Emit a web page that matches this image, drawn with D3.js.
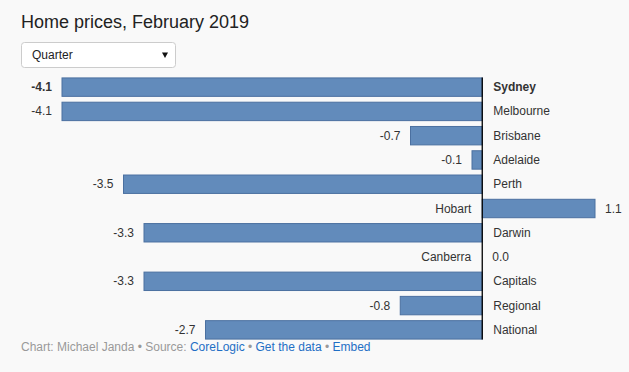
<!DOCTYPE html>
<html>
<head>
    <meta charset="utf-8" />
    <title>Home prices, February 2019</title>
    <script src="https://d3js.org/d3.v7.min.js"></script>
    <style>
        body { margin: 0; background: #f9f9f9; }
        svg { display: block; font-family: Arial, "Liberation Sans", sans-serif; }
    </style>
</head>
<body>
    <script type="text/javascript">
        var cities = ["Sydney", "Melbourne", "Brisbane", "Adelaide", "Perth", "Hobart",
                      "Darwin", "Canberra", "Capitals", "Regional", "National"];
        var quarterChange = [-4.1, -4.1, -0.7, -0.1, -3.5, 1.1, -3.3, 0.0, -3.3, -0.8, -2.7];
        var highlighted = ["Sydney"];

        var w = 629,
            h = 372;

        // plain hyphen for negatives, like the original
        var fmt = d3.formatLocale({decimal: ".", thousands: ",", grouping: [3],
                                   currency: ["$", ""], minus: "-"}).format(".1f");

        var svg = d3.select("body")
                    .append("svg")
                    .attr("width", w)
                    .attr("height", h);

        svg.append("rect")
           .attr("width", w)
           .attr("height", h)
           .attr("fill", "#f9f9f9");

        // title
        svg.append("text")
           .attr("x", 21)
           .attr("y", 28)
           .attr("font-size", 18)
           .attr("fill", "#222")
           .text("Home prices, February 2019");

        // fake dropdown
        var dd = svg.append("g");
        dd.append("rect")
          .attr("x", 21.5).attr("y", 42.5)
          .attr("width", 154).attr("height", 25)
          .attr("rx", 3)
          .attr("fill", "#fff")
          .attr("stroke", "#ccc");
        dd.append("text")
          .attr("x", 32).attr("y", 59)
          .attr("font-size", 12)
          .attr("fill", "#222")
          .text("Quarter");
        dd.append("path")
          .attr("d", "M162,52.5 L168,52.5 L165,58 Z")
          .attr("fill", "#111");

        var data = cities.map(function(c, i) {
            return {city: c, value: quarterChange[i], bold: highlighted.indexOf(c) >= 0};
        });

        var x = d3.scaleLinear()
                  .domain([-4.1, 1.1])
                  .range([62, 595]);

        var y = d3.scaleBand()
                  .domain(cities)
                  .range([75, 342])
                  .paddingInner(0.2)
                  .paddingOuter(0.1);

        var rows = svg.selectAll("g.row")
                      .data(data)
                      .enter()
                      .append("g")
                      .attr("class", "row");

        rows.append("rect")
            .attr("x", function(d) { return x(Math.min(0, d.value)); })
            .attr("y", function(d) { return y(d.city) + 0.5; })
            .attr("width", function(d) { return Math.abs(x(d.value) - x(0)); })
            .attr("height", y.bandwidth() - 1)
            .attr("fill", "#628bbb")
            .attr("stroke", "#4b70a0")
            .attr("stroke-width", 1)
            .style("display", function(d) { return d.value === 0 ? "none" : null; });

        var mid = function(d) { return y(d.city) + y.bandwidth() / 2 + 4; };

        // value labels at bar end
        rows.append("text")
            .attr("x", function(d) { return d.value < 0 ? x(d.value) - 10 : x(d.value) + 10; })
            .attr("y", mid)
            .attr("text-anchor", function(d) { return d.value < 0 ? "end" : "start"; })
            .attr("font-size", 12)
            .attr("font-weight", function(d) { return d.bold ? "bold" : "normal"; })
            .attr("fill", "#333")
            .text(function(d) { return fmt(d.value); });

        // city labels on the other side of zero
        rows.append("text")
            .attr("x", function(d) { return d.value < 0 ? x(0) + 11 : x(0) - 11; })
            .attr("y", mid)
            .attr("text-anchor", function(d) { return d.value < 0 ? "start" : "end"; })
            .attr("font-size", 12)
            .attr("font-weight", function(d) { return d.bold ? "bold" : "normal"; })
            .attr("fill", "#333")
            .text(function(d) { return d.city; });

        // zero line
        svg.append("line")
           .attr("x1", x(0)).attr("x2", x(0))
           .attr("y1", y(cities[0])).attr("y2", y(cities[cities.length - 1]) + y.bandwidth())
           .attr("stroke", "#000")
           .attr("stroke-width", 1.3);

        // footer
        var foot = svg.append("text")
                      .attr("x", 21)
                      .attr("y", 351)
                      .attr("font-size", 12)
                      .attr("fill", "#999");
        foot.append("tspan").text("Chart: Michael Janda \u2022 Source: ");
        foot.append("tspan").attr("fill", "#1f6fc5").text("CoreLogic");
        foot.append("tspan").text(" \u2022 ");
        foot.append("tspan").attr("fill", "#1f6fc5").text("Get the data");
        foot.append("tspan").text(" \u2022 ");
        foot.append("tspan").attr("fill", "#1f6fc5").text("Embed");
    </script>
</body>
</html>
